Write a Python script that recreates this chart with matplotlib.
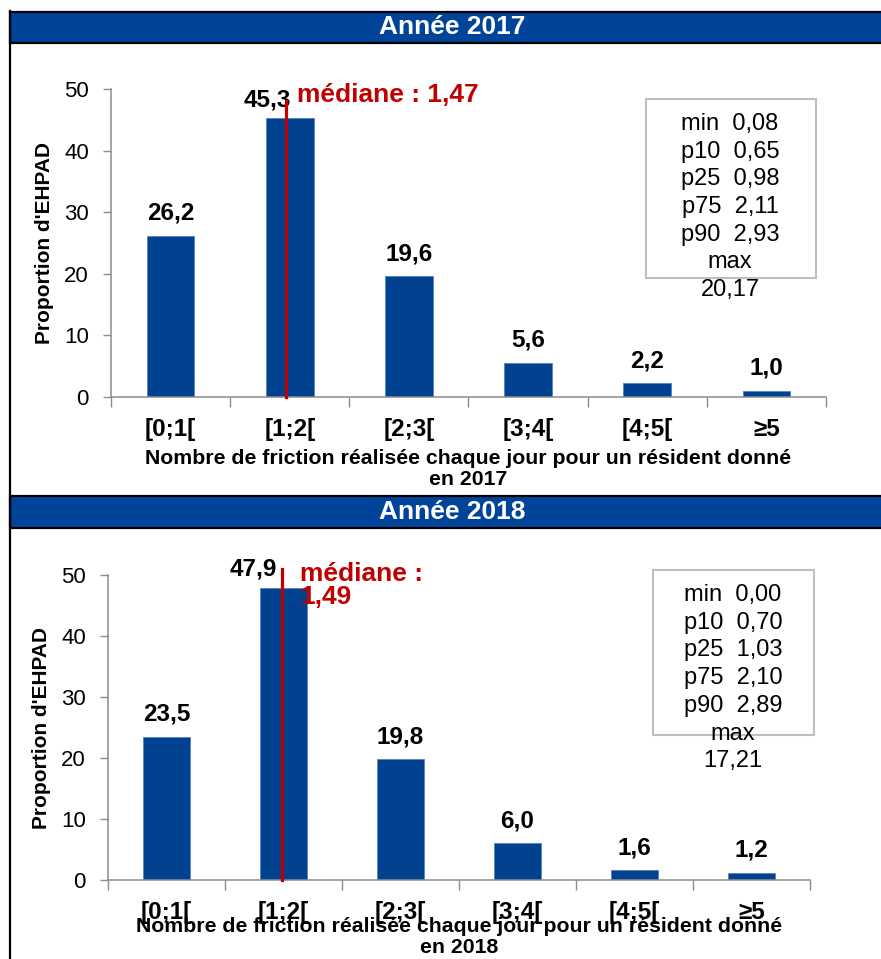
import matplotlib
matplotlib.use("Agg")
import matplotlib.pyplot as plt
from matplotlib.patches import Rectangle

plt.rcParams["font.family"] = ["Liberation Sans", "DejaVu Sans"]

# data
categories = ["[0;1[", "[1;2[", "[2;3[", "[3;4[", "[4;5[", "≥5"]
years = [2017, 2018]
props_2017 = [26.2, 45.3, 19.6, 5.6, 2.2, 1.0]
props_2018 = [23.5, 47.9, 19.8, 6.0, 1.6, 1.2]
medians = [1.47, 1.49]
stat_names = ["min", "p10", "p25", "p75", "p90", "max"]
stats_2017 = [0.08, 0.65, 0.98, 2.11, 2.93, 20.17]
stats_2018 = [0.00, 0.70, 1.03, 2.10, 2.89, 17.21]

BLUE = "#00428f"
HEAD = "#00449a"
RED = "#c00000"
GREY = "#8c8c8c"

W, H = 881, 959


def fx(px):
    return px / W


def fy(py):
    return 1 - py / H


def fr(v, nd):
    return f"{v:.{nd}f}".replace(".", ",")


# per-panel layout (pixels)
panels = [
    dict(year=years[0], vals=props_2017, med=medians[0], stats=stats_2017,
         ax=(111, 89, 826, 397), head=(12, 43), ylab=(45, 243),
         xlab=469, med_top=48, med_y=49, med_sep=" ", med_dx=8,
         peak_dx=1, box=(646, 99, 816, 278), stat_x=730, stat_y0=124),
    dict(year=years[1], vals=props_2018, med=medians[1], stats=stats_2018,
         ax=(108, 575, 810, 880), head=(496, 528), ylab=(42, 728),
         xlab=937, med_top=51, med_y=48.3, med_sep="\n", med_dx=13,
         peak_dx=-5, box=(653, 570, 814, 735), stat_x=733, stat_y0=595),
]
STAT_GAP = 27.7

fig = plt.figure(figsize=(W / 100, H / 100), dpi=100)
fig.patch.set_facecolor("white")

# outer frame: left border
fig.add_artist(plt.Line2D([fx(10), fx(10)], [fy(11), 0], color="black", lw=1.6))

x = list(range(len(categories)))

for p in panels:
    l, t, r, b = p["ax"]
    ax = fig.add_axes([fx(l), fy(b), fx(r) - fx(l), fy(t) - fy(b)])

    # header band
    h0, h1 = p["head"]
    fig.add_artist(Rectangle((fx(10), fy(h1)), 1.1, fy(h0) - fy(h1),
                             transform=fig.transFigure, facecolor=HEAD,
                             edgecolor="black", lw=1.6))
    fig.text(fx(452), fy((h0 + h1) / 2), f"Année {p['year']}", color="white",
             fontsize=19, fontweight="bold", ha="center", va="center")

    ax.bar(x, p["vals"], width=0.4, color=BLUE, edgecolor="#5a86c4", linewidth=0.7, zorder=2)

    for i, v in enumerate(p["vals"]):
        if i == 1:
            ax.annotate(fr(v, 1), (i, v), xytext=(p["peak_dx"], 5), textcoords="offset points",
                        ha="right", va="bottom", fontsize=17.5, fontweight="bold")
        else:
            ax.annotate(fr(v, 1), (i, v), xytext=(0, 8), textcoords="offset points",
                        ha="center", va="bottom", fontsize=17.5, fontweight="bold")

    # median line
    mx = p["med"] - 0.5
    ax.plot([mx, mx], [0, p["med_top"]], color=RED, lw=2.3, clip_on=False, zorder=3)
    ax.annotate(f"médiane :{p['med_sep']}{fr(p['med'], 2)}", (mx, p["med_y"]),
                xytext=(p["med_dx"], 0), textcoords="offset points",
                ha="left", va="center", color=RED, fontsize=19, fontweight="bold",
                multialignment="left", linespacing=0.95, annotation_clip=False)

    ax.set_xlim(-0.5, len(categories) - 0.5)
    ax.set_ylim(0, 50)
    ax.set_yticks(range(0, 51, 10))
    ax.set_xticks(x)
    ax.set_xticklabels(categories, fontsize=17.5, fontweight="bold")
    ax.set_xticks([i - 0.5 for i in range(len(categories) + 1)], minor=True)
    ax.tick_params(axis="x", which="major", length=0, pad=15)
    ax.tick_params(axis="x", which="minor", length=7, color=GREY, width=1)
    ax.tick_params(axis="y", length=6, color=GREY, width=1, labelsize=16, pad=10)
    for s in ("top", "right"):
        ax.spines[s].set_visible(False)
    for s in ("left", "bottom"):
        ax.spines[s].set_color(GREY)
        ax.spines[s].set_linewidth(1.1)

    fig.text(fx(p["ylab"][0]), fy(p["ylab"][1]), "Proportion d'EHPAD", rotation=90,
             fontsize=15, fontweight="bold", ha="center", va="center")
    fig.text(fx((l + r) / 2), fy(p["xlab"]),
             f"Nombre de friction réalisée chaque jour pour un résident donné\nen {p['year']}",
             fontsize=15.3, fontweight="bold", ha="center", va="center",
             multialignment="center", linespacing=1.15)

    # stats box
    bl, bt, br, bb = p["box"]
    fig.add_artist(Rectangle((fx(bl), fy(bb)), fx(br) - fx(bl), fy(bt) - fy(bb),
                             transform=fig.transFigure, facecolor="white",
                             edgecolor="#bfbfbf", lw=1.5))
    lines = [f"{n}  {fr(v, 2)}" for n, v in zip(stat_names[:-1], p["stats"][:-1])]
    lines += [stat_names[-1], fr(p["stats"][-1], 2)]
    for k, line in enumerate(lines):
        fig.text(fx(p["stat_x"]), fy(p["stat_y0"] + k * STAT_GAP), line,
                 fontsize=17, ha="center", va="center")

fig.savefig("out.png", dpi=100, facecolor="white")
